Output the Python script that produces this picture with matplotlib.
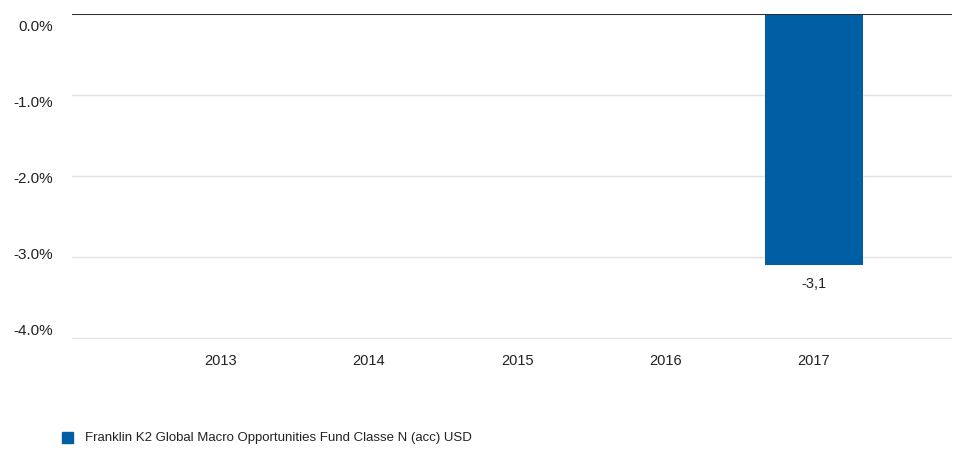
import matplotlib.pyplot as plt
import matplotlib.transforms as mtransforms
import numpy as np

# ==============================================================================
# data
# ==============================================================================
years = ['2013', '2014', '2015', '2016', '2017']
returns = [np.nan, np.nan, np.nan, np.nan, -3.1]
value_labels = ['', '', '', '', '-3,1']
series_name = 'Franklin K2 Global Macro Opportunities Fund Classe N (acc) USD'
y_ticks = [0.0, -1.0, -2.0, -3.0, -4.0]

bar_color = '#005ea5'
text_color = '#222222'

plt.rcParams['font.family'] = ['Liberation Sans', 'DejaVu Sans']

# ==============================================================================
# plotting
# ==============================================================================
fig = plt.figure(figsize=(9.56, 4.49), dpi=100)
ax = fig.add_axes([72 / 956, 1 - 339 / 449, 880 / 956, 325 / 449])

x = np.arange(len(years))
ax.bar(x, np.nan_to_num(returns), width=0.66, color=bar_color, zorder=3)

for xi, val, lab in zip(x, returns, value_labels):
    if lab:
        ax.text(xi, val - 0.14, lab, ha='center', va='top', fontsize=10.5, color=text_color)

ax.set_xlim(-1, 4.93)
ax.set_ylim(-4.01, 0)
ax.set_yticks(y_ticks)
ax.set_yticklabels([])
ax.set_xticks(x)
ax.set_xticklabels(years)

# y labels are spread a bit inside the plot range, as in the source chart
trans = mtransforms.blended_transform_factory(ax.transAxes, ax.transData)
for t in y_ticks:
    ax.text(-0.022, -0.16 + 0.9375 * t, '%.1f%%' % t, transform=trans,
            ha='right', va='center', fontsize=11, color=text_color)

ax.grid(axis='y', color='#e3e3e3', linewidth=1, zorder=0)
ax.axhline(0, color='#2a2a2a', linewidth=1.4, zorder=4)
for s in ax.spines.values():
    s.set_visible(False)
ax.tick_params(axis='both', length=0, labelsize=10.5, colors=text_color)
ax.tick_params(axis='x', pad=11)

# legend
fig.patches.append(plt.Rectangle((62 / 956, 1 - 443 / 449), 11 / 956, 11 / 449,
                                 transform=fig.transFigure, color=bar_color))
fig.text(85 / 956, 1 - 438 / 449, series_name, fontsize=9.5, color=text_color, va='center')

fig.savefig('out.png', dpi=100)
